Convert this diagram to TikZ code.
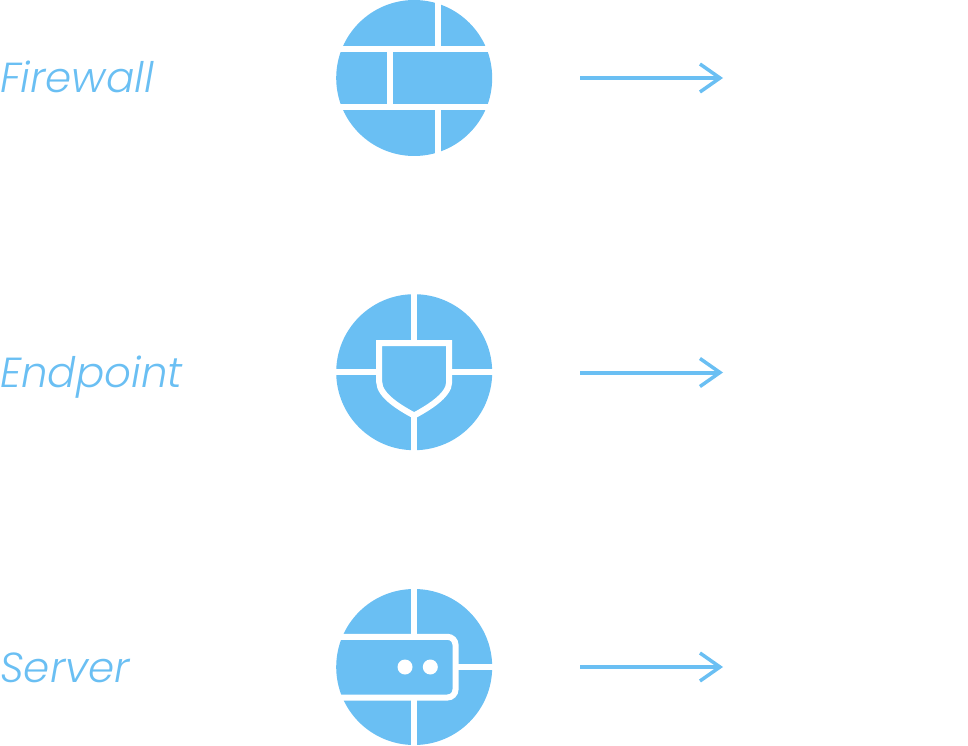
\documentclass[tikz,border=0pt]{standalone}
\usepackage{fontspec}
\usetikzlibrary{arrows.meta}
\newfontfamily\labelfont{Poppins Light Italic}
\definecolor{skyblue}{HTML}{6ABFF3}

\begin{document}
\begin{tikzpicture}[
  x=1pt, y=-1pt,
  disc/.style={circle, fill=skyblue, minimum size=156pt, inner sep=0pt, outer sep=0pt},
  caption/.style={anchor=base west, inner sep=0pt, text=skyblue, font=\labelfont\fontsize{42}{42}\selectfont},
  gap/.style={draw=white, line width=6pt},
  inset/.style={gap, fill=skyblue},
  hole/.style={circle, fill=white, minimum size=15pt, inner sep=0pt},
  line/.style={draw=skyblue, line width=4pt, -{Straight Barb[length=20pt, width=28pt, line width=3.5pt]}}
]
  \useasboundingbox (0,0) rectangle (968,746);

  \node[caption] (firewalltext) at (0,93) {Firewall};
  \node[caption] (endpointtext) at (0,387.5) {Endpoint};
  \node[caption] (servertext) at (0,682) {Server};

  \node[disc] (firewall) at (414.2,78) {};
  \node[disc] (endpoint) at (414.2,372.2) {};
  \node[disc] (server) at (414.2,667) {};

  % firewall bricks
  \draw[gap] (330,48.9) -- (498,48.9);
  \draw[gap] (330,106.9) -- (498,106.9);
  \draw[gap] (438.2,-4) -- (438.2,48.9);
  \draw[gap] (390.2,48.9) -- (390.2,106.9);
  \draw[gap] (438.2,106.9) -- (438.2,160);

  % endpoint shield
  \draw[gap] (414.2,288) -- (414.2,343.2);
  \draw[gap] (414.2,415) -- (414.2,456);
  \draw[gap] (330,372.3) -- (379.2,372.3);
  \draw[gap] (449.2,372.3) -- (498,372.3);
  \draw[inset] (379.2,343.2) -- (449.2,343.2) -- (449.2,382)
    .. controls (449.2,396) and (426,409) .. (414.2,415.5)
    .. controls (402,409) and (379.2,396) .. (379.2,382) -- cycle;

  % server rack
  \draw[gap] (414.2,582) -- (414.2,636.8);
  \draw[gap] (414.2,697.5) -- (414.2,752);
  \draw[gap] (455.5,667.3) -- (498,667.3);
  \draw[gap, rounded corners=8pt] (330,636.8) -- (455.5,636.8) -- (455.5,697.5) -- (330,697.5);
  \node[hole] (ledleft) at (405,667) {};
  \node[hole] (ledright) at (430.3,667) {};

  % arrows
  \coordinate (firewallfrom) at (580,78);
  \coordinate (firewallto) at (723,78);
  \coordinate (endpointfrom) at (580,372.5);
  \coordinate (endpointto) at (723,372.5);
  \coordinate (serverfrom) at (580,667);
  \coordinate (serverto) at (723,667);
  \draw[line] (firewallfrom) -- (firewallto);
  \draw[line] (endpointfrom) -- (endpointto);
  \draw[line] (serverfrom) -- (serverto);
\end{tikzpicture}
\end{document}
